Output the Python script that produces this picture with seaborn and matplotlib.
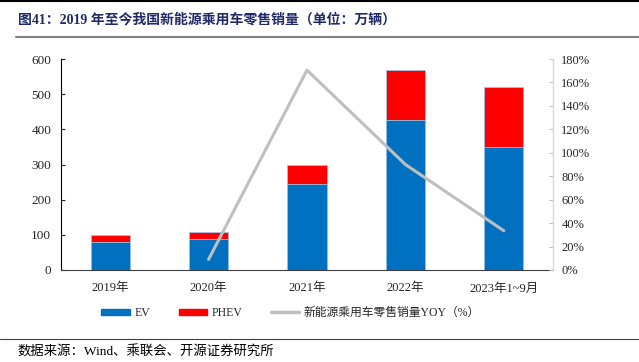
import numpy as np
import pandas as pd
import matplotlib
matplotlib.use("Agg")
import matplotlib.pyplot as plt
import seaborn as sns
from matplotlib.lines import Line2D
from matplotlib.patches import Patch

# data (万辆, %)
years = ["2019年", "2020年", "2021年", "2022年", "2023年1~9月"]
ev = [79, 89, 244, 426, 350]
phev = [21, 20, 54, 142, 169]
yoy_years = ["2020年", "2021年", "2022年", "2023年1~9月"]
yoy = [9.1, 170.5, 90.0, 33.5]

sns.set_style("white")
plt.rcParams['font.family'] = ['Liberation Serif', 'Noto Sans CJK SC']
plt.rcParams['axes.unicode_minus'] = False

df = pd.DataFrame({"year": years, "EV": ev, "PHEV": phev})
df["total"] = df["EV"] + df["PHEV"]

fig = plt.figure(figsize=(6.39, 3.62), dpi=100)
ax = fig.add_axes([61/639, 1 - 270/362, (553-61)/639, (270-59)/362])

# stacked look: total in red, EV over it in blue
sns.barplot(data=df, x="year", y="total", color="#FF0000", width=0.4, saturation=1, ax=ax)
sns.barplot(data=df, x="year", y="EV", color="#0070C0", width=0.4, saturation=1, ax=ax)
for p in ax.patches:
    p.set_edgecolor("#9DC3E6")
    p.set_linewidth(0.6)

ax.set_xlim(-0.5, 4.5)
ax.set_ylim(0, 600)
ax.set_yticks(range(0, 601, 100))
ax.set_xlabel("")
ax.set_ylabel("")
ax.set_xticks(np.arange(-0.5, 4.6, 1), minor=True)
ax.tick_params(axis="x", which="major", length=0, labelsize=9, pad=9)
ax.tick_params(axis="x", which="minor", length=3, direction="in", color="#404040")
ax.tick_params(axis="y", length=3, direction="in", labelsize=9.5, pad=7)
for s in ["top", "right"]:
    ax.spines[s].set_visible(False)
ax.spines["left"].set_color("#000000")
ax.spines["bottom"].set_color("#404040")
ax.spines["left"].set_linewidth(0.8)
ax.spines["bottom"].set_linewidth(0.8)

ax2 = ax.twinx()
xpos = [years.index(y) for y in yoy_years]
sns.lineplot(x=xpos, y=yoy, color="#BFBFBF", linewidth=2.2, ax=ax2)
ax2.set_ylim(0, 180)
ax2.set_yticks(range(0, 181, 20))
ax2.set_yticklabels([f"{v}%" for v in range(0, 181, 20)])
ax2.tick_params(axis="y", length=3, direction="in", labelsize=9, color="#BFBFBF", pad=6)
for s in ["top", "left", "bottom"]:
    ax2.spines[s].set_visible(False)
ax2.spines["right"].set_color("#D9D9D9")
ax2.spines["right"].set_linewidth(1)
ax.set_xlim(-0.5, 4.5)

handles = [Patch(color="#0070C0"), Patch(color="#FF0000"),
           Line2D([], [], color="#BFBFBF", linewidth=2.5)]
labels = ["EV", "PHEV", "新能源乘用车零售销量YOY（%）"]
fig.legend(handles, labels, loc="center", bbox_to_anchor=(0.455, 1 - 313/362), ncol=3,
           frameon=False, fontsize=8.5, handlelength=2.4, handleheight=0.45,
           columnspacing=2.4, handletextpad=0.4)

fig.text(18/639, 1 - 20/362, "图41：2019 年至今我国新能源乘用车零售销量（单位：万辆）",
         fontsize=10, fontweight="bold", color="#1F2A6B", va="center", ha="left")
fig.add_artist(Line2D([0, 1], [1 - 1/362, 1 - 1/362], color="#000000", linewidth=1.5))
fig.add_artist(Line2D([16/639, 1], [1 - 37/362, 1 - 37/362], color="#808080", linewidth=1.5))
fig.add_artist(Line2D([0, 1], [1 - 339/362, 1 - 339/362], color="#404040", linewidth=0.8))
fig.text(18/639, 1 - 352/362, "数据来源：Wind、乘联会、开源证券研究所",
         fontsize=9.6, color="#000000", va="center", ha="left")

fig.savefig("out.png", dpi=100)
